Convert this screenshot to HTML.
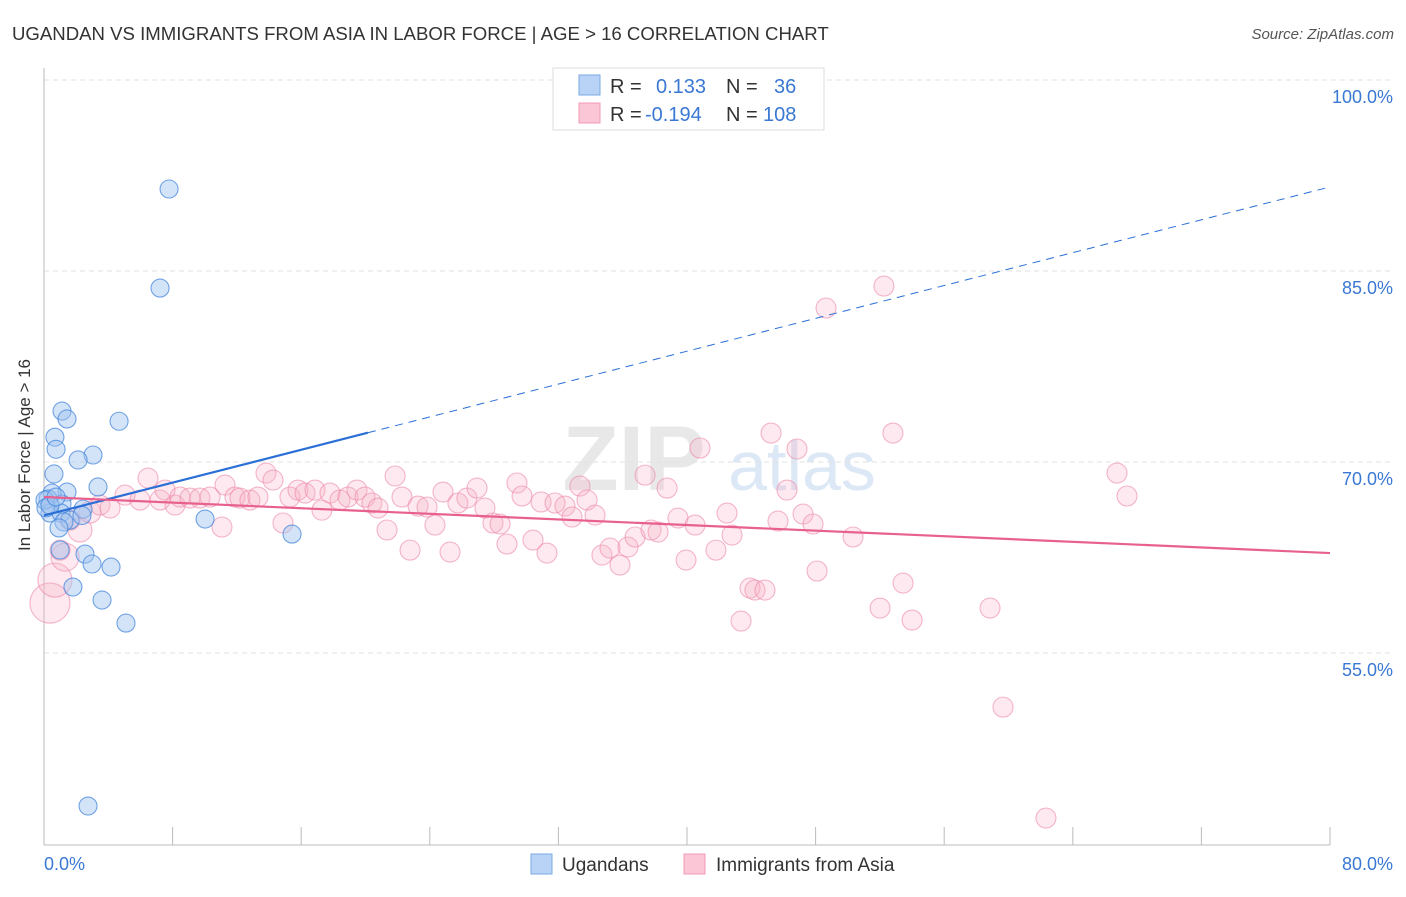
<!DOCTYPE html>
<html><head><meta charset="utf-8"><style>
body{margin:0;background:#fff;font-family:"Liberation Sans",sans-serif;}
svg text{font-family:"Liberation Sans",sans-serif;}
</style></head><body>
<svg id="c" width="1406" height="892" xmlns="http://www.w3.org/2000/svg">
<text x="12" y="40" font-size="18.6" fill="#333">UGANDAN VS IMMIGRANTS FROM ASIA IN LABOR FORCE | AGE &gt; 16 CORRELATION CHART</text>
<text x="1394" y="39" font-size="15" fill="#555" font-style="italic" text-anchor="end">Source: ZipAtlas.com</text>
<text x="634" y="490" font-size="92" fill="#e8e8e8" font-family="Liberation Serif" font-weight="bold" text-anchor="middle">ZIP</text>
<text x="802" y="490" font-size="70" fill="#dde8f6" text-anchor="middle">atlas</text>
<g id="grid"></g><g id="axes"></g><g id="pink"></g><g id="blue"></g><g id="trends"></g>
<text x="30" y="455" font-size="17" fill="#333" text-anchor="middle" transform="rotate(-90 30 455)">In Labor Force | Age &gt; 16</text>
<text x="44" y="870" font-size="18" fill="#3a78d4">0.0%</text>
<text x="1393" y="870" font-size="18" fill="#3a78d4" text-anchor="end">80.0%</text>
<g>
<rect x="553" y="68" width="271" height="62" fill="#fff" stroke="#ddd"/>
<rect x="579" y="75" width="21" height="20" fill="#b8d3f5" stroke="#7aa8e6"/>
<rect x="579" y="103" width="21" height="20" fill="#fbc6d6" stroke="#f09ab6"/>
<text x="610" y="93" font-size="20" fill="#333">R =</text><text x="656" y="93" font-size="20" fill="#3a78d4">0.133</text>
<text x="726" y="93" font-size="20" fill="#333">N =</text><text x="774" y="93" font-size="20" fill="#3a78d4">36</text>
<text x="610" y="121" font-size="20" fill="#333">R =</text><text x="645" y="121" font-size="20" fill="#3a78d4">-0.194</text>
<text x="726" y="121" font-size="20" fill="#333">N =</text><text x="763" y="121" font-size="20" fill="#3a78d4">108</text>
</g>
<g>
<rect x="531" y="854" width="21" height="20" fill="#b8d3f5" stroke="#7aa8e6"/>
<text x="562" y="871" font-size="19" fill="#333">Ugandans</text>
<rect x="684" y="854" width="21" height="20" fill="#fbc6d6" stroke="#f09ab6"/>
<text x="716" y="871" font-size="19" fill="#333">Immigrants from Asia</text>
</g>
</svg>
<script>
const yTicks=[100,85,70,55];
const yTickLabels=["100.0%","85.0%","70.0%","55.0%"];
const xTicks=[0,8,16,24,32,40,48,56,64,72,80];
const blueX=[7.78,7.22,1.12,1.43,4.67,0.68,0.75,3.05,2.12,0.62,3.36,1.43,0.5,0.25,1.12,2.43,0.37,1.06,1.62,1.24,10.02,15.43,0.93,1.0,2.55,2.99,4.17,1.8,3.61,5.1,2.74,0.06,0.12,0.37,0.75,2.36];
const blueY=[91.44,83.66,74.0,73.38,73.2,71.95,71.0,70.55,70.16,69.06,68.04,67.64,67.56,67.1,66.7,66.3,65.99,65.99,65.44,65.29,65.52,64.34,64.82,63.09,62.77,61.99,61.75,60.18,59.16,57.35,42.98,67.0,66.4,66.6,67.25,65.8];
const pinkX=[0.37,0.68,1.31,2.24,2.86,3.48,4.11,5.04,5.97,6.47,7.22,7.53,8.15,8.46,9.08,9.70,10.33,11.07,11.26,11.88,12.19,12.81,13.31,13.81,14.25,14.87,15.30,15.80,16.24,16.86,17.29,17.79,18.41,18.91,19.47,19.97,20.40,20.78,21.34,21.84,22.27,22.77,23.27,23.83,24.32,24.82,25.26,25.75,26.31,26.94,27.43,27.93,28.37,28.80,29.42,29.74,30.42,30.92,31.29,31.79,32.41,32.85,33.34,33.78,34.28,34.71,35.21,35.83,36.33,36.77,37.39,37.76,38.20,38.76,39.44,39.94,40.50,40.81,41.80,42.49,42.80,43.36,43.92,44.23,44.85,45.23,45.66,46.22,46.84,47.22,47.84,48.09,48.65,50.33,52.01,52.25,52.81,53.44,54.00,58.85,59.66,62.33,66.75,67.37,1.00,1.62];
const pinkY=[58.92,60.73,62.53,64.66,66.07,66.62,66.38,67.40,67.01,68.74,67.01,67.80,66.62,67.25,67.17,67.17,67.25,64.89,68.19,67.25,67.17,67.01,67.25,69.13,68.58,65.21,67.25,67.80,67.56,67.80,66.22,67.56,67.01,67.25,67.80,67.25,66.78,66.38,64.66,68.90,67.25,63.08,66.54,66.46,65.05,67.64,62.93,66.78,67.17,67.95,66.38,65.21,65.13,63.56,68.35,67.33,63.87,66.86,62.85,66.78,66.54,65.68,68.11,67.01,65.83,62.69,63.24,61.91,63.32,64.11,68.97,64.66,64.50,67.95,65.60,62.30,65.05,71.10,63.08,65.99,64.26,57.51,60.10,59.94,59.94,72.27,65.36,67.80,71.02,65.91,65.13,61.44,82.09,64.11,58.53,83.82,72.27,60.49,57.59,58.53,50.75,42.04,69.13,67.33,63.08,65.44];
const pinkWeight=[2,1.7,1.4,1.2,1.1];
const blueTrend=[65.8,91.6];
const blueSolidEnd=20.15;
const pinkTrend=[67.25,62.85];
const NS="http://www.w3.org/2000/svg";
const X=v=>44+v/80*1286;
const Y=v=>80+(100-v)*191/15;
function mk(tag,attrs,parent){const e=document.createElementNS(NS,tag);for(const k in attrs)e.setAttribute(k,attrs[k]);document.getElementById(parent).appendChild(e);return e;}
yTicks.forEach((t,i)=>{
 const l=mk('line',{x1:44,x2:1394,y1:Y(t),y2:Y(t),stroke:'#e2e2e2','stroke-dasharray':'5,4'},'grid');
 
 
 const tx=mk('text',{x:1393,y:Y(t)+23,'font-size':18,fill:'#3a78d4','text-anchor':'end'},'grid');
 tx.textContent=yTickLabels[i];
 
 
});
const ax=mk('line',{x1:44,x2:44,y1:68,y2:845,stroke:'#bbb'},'axes');


const bx=mk('line',{x1:44,x2:1330,y1:845,y2:845,stroke:'#bbb'},'axes');


xTicks.forEach(t=>{
 const l=mk('line',{x1:X(t),x2:X(t),y1:827,y2:845,stroke:'#bbb'},'axes');
 
 
});
pinkX.forEach((v,i)=>{
 const c=mk('circle',{cx:X(v),cy:Y(pinkY[i]),r:10*(pinkWeight[i]||1),fill:'rgba(248,175,198,0.28)',stroke:'rgba(236,135,168,0.6)','stroke-width':1.1},'pink');
 
 
});
blueX.forEach((v,i)=>{
 const c=mk('circle',{cx:X(v),cy:Y(blueY[i]),r:9,fill:'rgba(160,196,240,0.45)',stroke:'rgba(70,135,220,0.75)','stroke-width':1.1},'blue');
 
 
});
const bAt=x=>blueTrend[0]+(blueTrend[1]-blueTrend[0])*x/80;
const t1=mk('line',{x1:X(0),y1:Y(bAt(0)),x2:X(blueSolidEnd),y2:Y(bAt(blueSolidEnd)),stroke:'#2a6fd6','stroke-width':2.2},'trends');


const t2=mk('line',{x1:X(blueSolidEnd),y1:Y(bAt(blueSolidEnd)),x2:X(80),y2:Y(bAt(80)),stroke:'#2a6fd6','stroke-width':1,'stroke-dasharray':'8,6'},'trends');


const t3=mk('line',{x1:X(0),y1:Y(pinkTrend[0]),x2:X(80),y2:Y(pinkTrend[1]),stroke:'#e8608e','stroke-width':2.2},'trends');


</script>
</body></html>
